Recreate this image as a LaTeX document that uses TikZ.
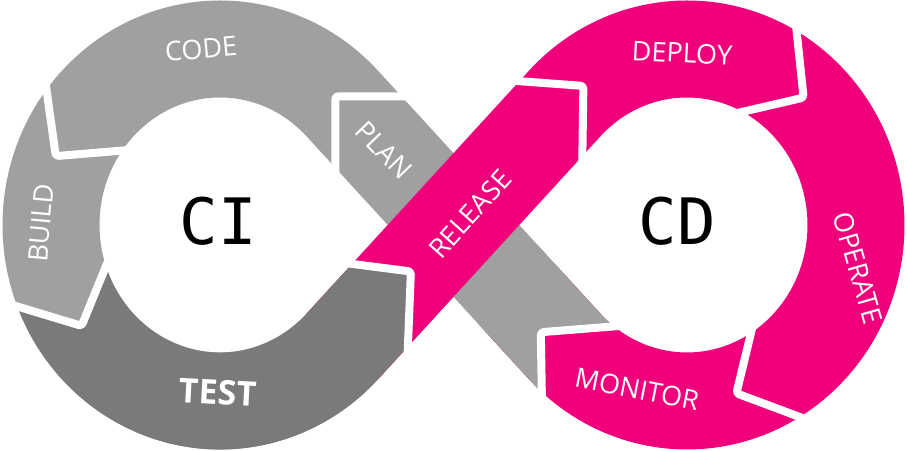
\documentclass[tikz,border=0pt]{standalone}
\usepackage{fontspec}
\setmainfont{Open Sans}
\newfontfamily\cimono{DejaVu Sans Mono}
\usetikzlibrary{calc}
\definecolor{lgrey}{RGB}{160,160,160}
\definecolor{dgrey}{RGB}{122,122,122}
\definecolor{pinkc}{RGB}{240,0,122}
\begin{document}
\begin{tikzpicture}[x=1pt,y=-1pt,
  band/.style={line width=97pt, line cap=butt, line join=round},
  gap/.style={draw=white, line width=8pt, line join=round, rounded corners=3pt},
  lbl/.style={text=white, font=\fontsize{27}{27}\selectfont, inner sep=0pt},
  big/.style={text=black, font=\cimono\fontsize{64}{64}\selectfont, inner sep=0pt}]
\useasboundingbox (0,0) rectangle (907,450);
\fill[white] (0,0) rectangle (907,450);

% centres, crossing, tangent points
\coordinate (C1) at (220,225);
\coordinate (C2) at (687,225);
\coordinate (X) at (453.5,225);
\coordinate (T1) at (342.317,103.551);
\coordinate (T2) at (342.317,346.449);
\coordinate (T3) at (564.683,346.449);
\coordinate (T4) at (564.683,103.551);

% chevron points (outer end, corner, inner end)
\coordinate (pcO) at (425,96.3);   \coordinate (pcP) at (335.3,96.3);  \coordinate (pcI) at (335.3,186);
\coordinate (cbO) at (43.3,67);    \coordinate (cbP) at (55.8,156.1);  \coordinate (cbI) at (135.6,149.5);
\coordinate (btO) at (-9.3,298.4); \coordinate (btP) at (81.6,325.9);  \coordinate (btI) at (111.8,251.8);
\coordinate (trI) at (326.6,260.6); \coordinate (trP) at (410.9,271.5); \coordinate (trO) at (407.3,361.5);
\coordinate (rdO) at (493.7,79.3); \coordinate (rdP) at (583.4,85.9);  \coordinate (rdI) at (582.2,165.9);
\coordinate (doO) at (794.2,8.1);  \coordinate (doP) at (803.6,97.6);  \coordinate (doI) at (730.5,114.6);
\coordinate (omO) at (820.7,424.8); \coordinate (omP) at (736.4,393.3); \coordinate (omI) at (754,320.4);
\coordinate (mpO) at (542.3,422.2); \coordinate (mpP) at (540.8,332.2); \coordinate (mpI) at (625.5,325.5);

% grey loop (PLAN, CODE, BUILD)
\draw[band, lgrey] (T3) -- (X) -- (T1)
  arc[start angle=-43.63, end angle=-316.37, x radius=169, y radius=176] -- (X);

% pink loop (RELEASE, DEPLOY, OPERATE, MONITOR)
\draw[band, pinkc] (T2) -- (X) -- (T4)
  arc[start angle=-136.37, end angle=136.37, x radius=169, y radius=176]
  -- ($(X)!100pt!(T3)$);

% TEST segment
\begin{scope}
  \clip (btO) -- (btP) -- (btI) -- (trI) -- (trP) -- (trO) -- (405,470) -- (-20,470) -- (-20,298) -- cycle;
  \draw[band, dgrey] ([shift={(160:169 and 176)}]C1)
    arc[start angle=160, end angle=43.63, x radius=169, y radius=176] -- (X);
\end{scope}

% end of PLAN near MONITOR
\begin{scope}
  \clip (mpO) -- (mpP) -- (mpI) -- (630,250) -- (540,240) -- (480,300) -- (470,430) -- cycle;
  \draw[band, lgrey] ([shift={(110:169 and 176)}]C2)
    arc[start angle=110, end angle=136.37, x radius=169, y radius=176] -- (X);
\end{scope}

% white gaps between the stages
\draw[gap] (pcO) -- (pcP) -- (pcI);
\draw[gap] (cbO) -- (cbP) -- (cbI);
\draw[gap] (btO) -- (btP) -- (btI);
\draw[gap] (trI) -- (trP) -- (trO);
\draw[gap] (rdO) -- (rdP) -- (rdI);
\draw[gap] (doO) -- (doP) -- (doI);
\draw[gap] (omO) -- (omP) -- (omI);
\draw[gap] (mpO) -- (mpP) -- (mpI);

% labels
\node[lbl, rotate=5] (code) at (201,49) {CODE};
\node[lbl, rotate=85] (build) at (41,223) {BUILD};
\node[lbl, rotate=-3, font=\bfseries\fontsize{34}{34}\selectfont] (test) at (218,392) {TEST};
\node[lbl, rotate=-46] (plan) at (384,150) {PLAN};
\node[lbl, rotate=48] (release) at (470,214) {RELEASE};
\node[lbl, rotate=-3] (deploy) at (682,53) {DEPLOY};
\node[lbl, rotate=-74] (operate) at (858,268) {OPERATE};
\node[lbl, rotate=-11] (monitor) at (637,389) {MONITOR};
\node[big] (ci) at (218.5,221) {CI};
\node[big] (cd) at (677,221) {CD};
\end{tikzpicture}
\end{document}
